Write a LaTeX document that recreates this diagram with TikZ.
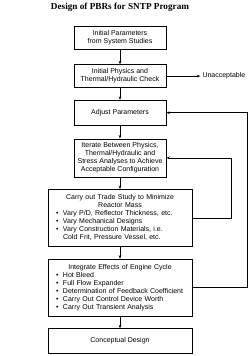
\documentclass[tikz,border=0pt]{standalone}
\usepackage{fontspec}
\setmainfont{Liberation Serif}
\setsansfont{Liberation Sans}
\usetikzlibrary{arrows.meta,positioning}
\setlength{\parindent}{0pt}
\newcommand{\bul}{\par\noindent\makebox[7pt][l]{\textbullet}}
\newcommand{\cont}{\par\noindent\hspace*{7pt}}
\tikzset{
  flowbox/.style={draw,line width=0.6pt,font=\sffamily\fontsize{7}{8}\selectfont,align=center,minimum width=92pt,inner sep=2pt},
  widebox/.style={flowbox,minimum width=144pt,text width=128pt,align=left},
  note/.style={font=\sffamily\fontsize{7}{8}\selectfont,inner sep=2pt},
  arr/.style={-{Stealth[length=3.5pt,width=2.6pt]},line width=0.5pt}
}
\begin{document}
\begin{tikzpicture}[x=1pt,y=-1pt]
    \useasboundingbox (0,0) rectangle (250,356);
    \node[font=\rmfamily\bfseries\fontsize{9.2}{11}\selectfont] (title) at (120,7) {Design of PBRs for SNTP Program};
    \node[flowbox,minimum height=23pt] (init) at (120,37.5) {Initial Parameters\\from System Studies};
    \node[flowbox,minimum height=23pt,below=15pt of init] (check) {Initial Physics and\\Thermal/Hydraulic Check};
    \node[note,right=34pt of check] (unacc) {Unacceptable};
    \node[flowbox,minimum height=25pt,below=12pt of check] (adjust) {Adjust Parameters};
    \node[flowbox,minimum height=38pt,below=13pt of adjust] (iter) {Iterate Between Physics,\\Thermal/Hydraulic and\\Stress Analyses to Achieve\\Acceptable Configuration};
    \node[widebox,minimum height=57pt,below=12pt of iter] (trade) {{\centering Carry out Trade Study to Minimize\\Reactor Mass\par}\bul Vary P/D, Reflector Thickness, etc.\bul Vary Mechanical Designs\bul Vary Construction Materials, i.e.\cont Cold Frit, Pressure Vessel, etc.};
    \node[widebox,minimum height=57pt,below=12pt of trade] (engine) {{\centering Integrate Effects of Engine Cycle\par}\bul Hot Bleed\bul Full Flow Expander\bul Determination of Feedback Coefficient\bul Carry Out Control Device Worth\bul Carry Out Transient Analysis};
    \node[flowbox,minimum width=144pt,minimum height=25pt,below=12pt of engine] (concept) {Conceptual Design};
    \foreach \a/\b in {init/check,check/adjust,adjust/iter,iter/trade,trade/engine,engine/concept}{\draw[arr] (\a)--(\b);}
    \draw[arr] (check)--(unacc);
    \draw[arr] (trade.east) -- ++(39pt,0) |- (iter.east);
    \draw[arr] (engine.east) -- ++(55pt,0) |- (adjust.east);
  \end{tikzpicture}
\end{document}
